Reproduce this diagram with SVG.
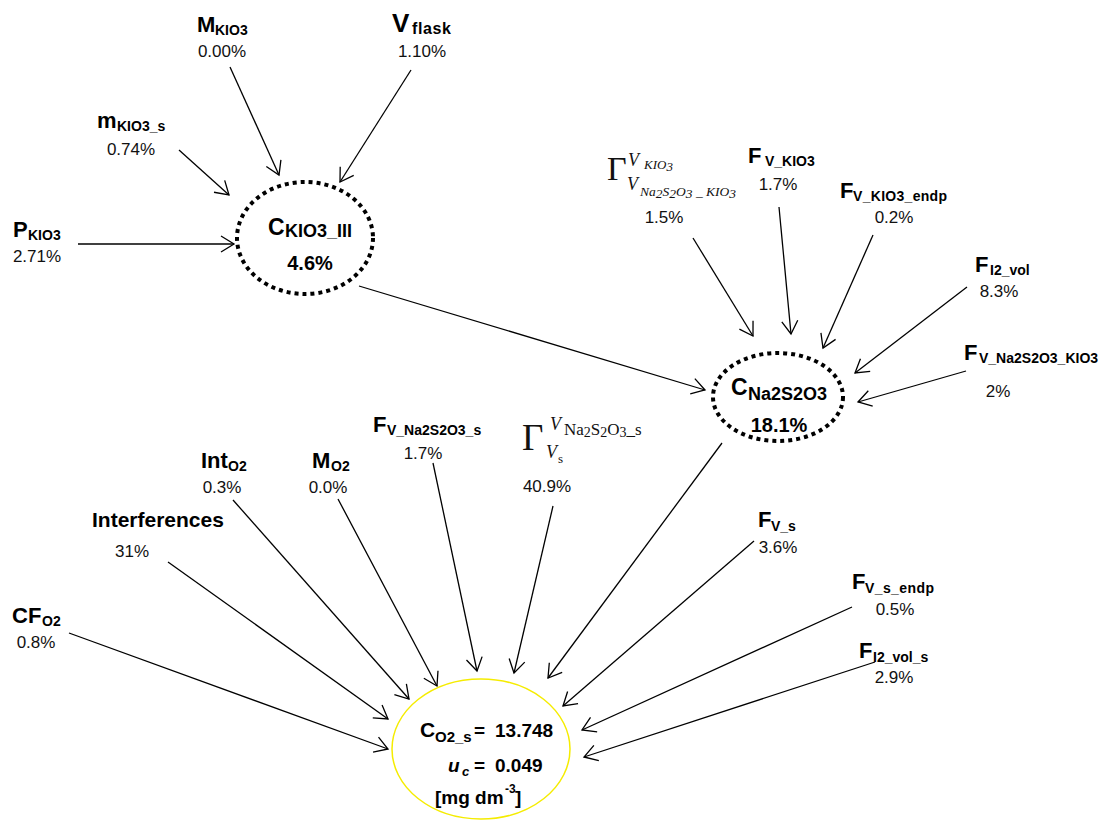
<svg xmlns="http://www.w3.org/2000/svg" width="1102" height="820" viewBox="0 0 1102 820">
<style>
.b{font-family:"Liberation Sans",Arial,sans-serif;font-weight:bold;fill:#000}
.m{font-size:22px}
.s{font-size:14px}
.p{font-family:"Liberation Sans",Arial,sans-serif;font-size:17px;fill:#111;text-anchor:middle}
.g{font-family:"Liberation Serif","Times New Roman",serif;fill:#111}
.i{font-style:italic}
.dot{fill:none;stroke:#000;stroke-width:4;stroke-dasharray:4 4}
.c line{stroke:#000;stroke-width:1.3;marker-end:url(#ah)}
</style>
<defs>
<marker id="ah" markerUnits="userSpaceOnUse" markerWidth="16" markerHeight="20" viewBox="-1 -10 16 20" refX="13" refY="0" orient="auto">
<path d="M0,-8 L13,0 L0,8" fill="none" stroke="#000" stroke-width="1.3"/>
</marker>
</defs>
<rect width="1102" height="820" fill="#fff"/>

<g class="c" id="connectors">
<line x1="230" y1="67" x2="279" y2="175"/>
<line x1="411" y1="70" x2="340" y2="182"/>
<line x1="179" y1="150" x2="229" y2="195"/>
<line x1="78" y1="244" x2="234" y2="244"/>
<line x1="359" y1="286" x2="705" y2="390"/>
<line x1="693" y1="238" x2="753" y2="336"/>
<line x1="779" y1="207" x2="791" y2="334"/>
<line x1="873" y1="235" x2="823" y2="348"/>
<line x1="967" y1="287" x2="855" y2="373"/>
<line x1="966" y1="371" x2="858" y2="402"/>
<line x1="69" y1="633" x2="388" y2="749"/>
<line x1="168" y1="562" x2="388" y2="719"/>
<line x1="233" y1="500" x2="409" y2="699"/>
<line x1="338" y1="499" x2="437" y2="686"/>
<line x1="433" y1="463" x2="477" y2="671"/>
<line x1="553" y1="506" x2="514" y2="673"/>
<line x1="722" y1="443" x2="548" y2="678"/>
<line x1="754" y1="541" x2="563" y2="706"/>
<line x1="852" y1="607" x2="582" y2="730"/>
<line x1="875" y1="662" x2="584" y2="757"/>
</g>

<g id="n_C_KIO3">
<ellipse class="dot" cx="305" cy="238" rx="68" ry="56"/>
<text class="b" x="268" y="235" font-size="23">C</text>
<text class="b" x="285" y="237" font-size="18">KIO3_III</text>
<text class="b" x="310" y="270" font-size="20" text-anchor="middle">4.6%</text>
</g>

<g id="n_C_Na2S2O3">
<ellipse class="dot" cx="778" cy="397" rx="65" ry="44"/>
<text class="b" x="731" y="395" font-size="23">C</text>
<text class="b" x="748" y="400" font-size="18">Na2S2O3</text>
<text class="b" x="779" y="432" font-size="20" text-anchor="middle">18.1%</text>
</g>

<g id="n_C_O2_s">
<ellipse cx="481" cy="749" rx="89" ry="70" fill="none" stroke="#f5ec00" stroke-width="1.5"/>
<text class="b" x="420" y="737" font-size="21">C</text>
<text class="b" x="435" y="742" font-size="15">O2_s</text>
<text class="b" x="474" y="737" font-size="19">=</text>
<text class="b" x="495" y="737" font-size="19">13.748</text>
<text class="b" x="448" y="772" font-size="19" font-style="italic">u</text>
<text class="b" x="462" y="776" font-size="13" font-style="italic">c</text>
<text class="b" x="474" y="772" font-size="19">=</text>
<text class="b" x="495" y="772" font-size="19">0.049</text>
<text class="b" x="435" y="804" font-size="19">[mg dm</text>
<text class="b" x="505" y="793" font-size="12">-3</text>
<text class="b" x="515" y="804" font-size="19">]</text>
</g>

<g id="n_M_KIO3">
<text class="b m" x="197" y="32">M</text>
<text class="b s" x="215" y="35">KIO3</text>
<text class="p" x="222" y="57">0.00%</text>
</g>
<g id="n_V_flask">
<text class="b" x="392" y="32" font-size="26">V</text>
<text class="b" x="412" y="34" font-size="16" letter-spacing="0.6">flask</text>
<text class="p" x="422" y="57">1.10%</text>
</g>
<g id="n_m_KIO3_s">
<text class="b" x="97" y="128" font-size="22">m</text>
<text class="b s" x="117" y="131">KIO3_s</text>
<text class="p" x="131" y="155">0.74%</text>
</g>
<g id="n_P_KIO3">
<text class="b m" x="13" y="237">P</text>
<text class="b s" x="28" y="240">KIO3</text>
<text class="p" x="37" y="262">2.71%</text>
</g>

<g id="n_Gamma_KIO3">
<text class="g" x="607" y="180" font-size="34">Γ</text>
<text class="g i" x="628" y="166" font-size="18">V</text>
<text class="g i" x="644" y="169" font-size="13">KIO<tspan dy="2">3</tspan></text>
<text class="g i" x="627" y="190" font-size="18">V</text>
<text class="g i" x="640" y="196" font-size="13.5">Na<tspan dy="2">2</tspan><tspan dy="-2">S</tspan><tspan dy="2">2</tspan><tspan dy="-2">O</tspan><tspan dy="2">3</tspan><tspan dy="-2"> _ KIO</tspan><tspan dy="2">3</tspan></text>
<text class="p" x="664" y="223">1.5%</text>
</g>
<g id="n_F_V_KIO3">
<text class="b m" x="748" y="163">F</text>
<text class="b s" x="765" y="166">V_KIO3</text>
<text class="p" x="778" y="190">1.7%</text>
</g>
<g id="n_F_V_KIO3_endp">
<text class="b m" x="840" y="198">F</text>
<text class="b s" x="853" y="201" letter-spacing="0.3">V_KIO3_endp</text>
<text class="p" x="894" y="223">0.2%</text>
</g>
<g id="n_F_I2_vol">
<text class="b m" x="975" y="272">F</text>
<text class="b s" x="990" y="275">I2_vol</text>
<text class="p" x="999" y="297">8.3%</text>
</g>
<g id="n_F_V_Na2S2O3_KIO3">
<text class="b m" x="964" y="360">F</text>
<text class="b s" x="979" y="363">V_Na2S2O3_KIO3</text>
<text class="p" x="998" y="397">2%</text>
</g>

<g id="n_CF_O2">
<text class="b m" x="12" y="623">CF</text>
<text class="b s" x="42" y="626">O2</text>
<text class="p" x="36" y="648">0.8%</text>
</g>
<g id="n_Interferences">
<text class="b" x="92" y="527" font-size="21">Interferences</text>
<text class="p" x="132" y="557" font-size="20">31%</text>
</g>
<g id="n_Int_O2">
<text class="b m" x="201" y="468">Int</text>
<text class="b s" x="228" y="471">O2</text>
<text class="p" x="222" y="493">0.3%</text>
</g>
<g id="n_M_O2">
<text class="b m" x="312" y="468">M</text>
<text class="b s" x="331" y="471">O2</text>
<text class="p" x="328" y="493">0.0%</text>
</g>
<g id="n_F_V_Na2S2O3_s">
<text class="b m" x="373" y="432">F</text>
<text class="b s" x="387" y="435">V_Na2S2O3_s</text>
<text class="p" x="423" y="459">1.7%</text>
</g>
<g id="n_Gamma_s">
<text class="g" x="522" y="450" font-size="37">Γ</text>
<text class="g i" x="550" y="430" font-size="18">V</text>
<text class="g" x="564" y="435" font-size="17">Na<tspan dy="2" font-size="14">2</tspan><tspan dy="-2">S</tspan><tspan dy="2" font-size="14">2</tspan><tspan dy="-2">O</tspan><tspan dy="2" font-size="14">3</tspan><tspan dy="-2">_s</tspan></text>
<text class="g i" x="546" y="458" font-size="18">V</text>
<text class="g" x="558" y="463" font-size="13">s</text>
<text class="p" x="547" y="492">40.9%</text>
</g>
<g id="n_F_V_s">
<text class="b m" x="758" y="527">F</text>
<text class="b s" x="771" y="531">V_s</text>
<text class="p" x="778" y="553">3.6%</text>
</g>
<g id="n_F_V_s_endp">
<text class="b m" x="852" y="589">F</text>
<text class="b s" x="865" y="593" letter-spacing="0.4">V_s_endp</text>
<text class="p" x="895" y="615">0.5%</text>
</g>
<g id="n_F_I2_vol_s">
<text class="b m" x="859" y="658">F</text>
<text class="b s" x="873" y="662">I2_vol_s</text>
<text class="p" x="894" y="683">2.9%</text>
</g>
</svg>
